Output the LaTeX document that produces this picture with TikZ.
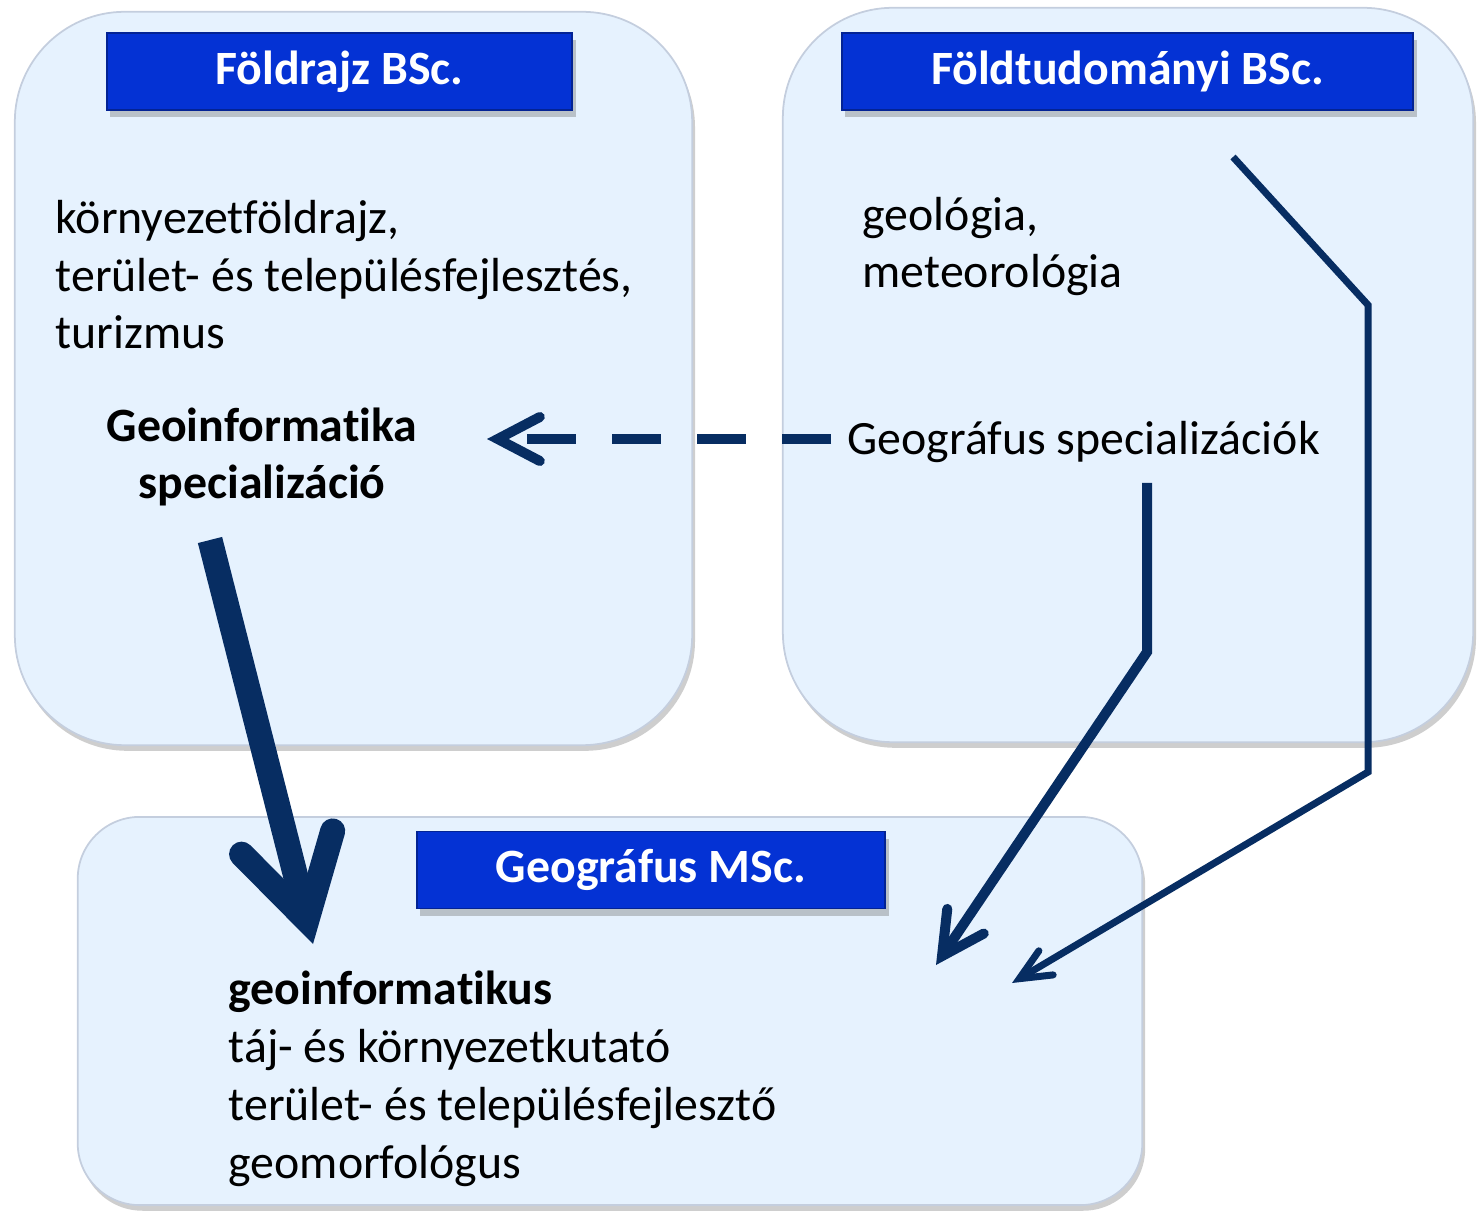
\documentclass[tikz,border=0pt]{standalone}
\usepackage{fontspec}
\setmainfont{Carlito}[Ligatures=NoCommon]
\usetikzlibrary{arrows.meta,shadows}

\definecolor{panelfill}{RGB}{230,242,254}
\definecolor{paneledge}{RGB}{196,206,222}
\definecolor{headblue}{RGB}{4,50,212}
\definecolor{arrownavy}{RGB}{7,45,98}

\newcommand{\bodyfont}{\fontsize{13.6}{16.4}\selectfont}

\begin{document}
\begin{tikzpicture}[x=0.01cm, y=-0.01cm,
  panel/.style={draw=paneledge, line width=0.5pt, fill=panelfill, rounded corners=#1,
    drop shadow={shadow xshift=0.8pt, shadow yshift=-1.6pt, fill=black!55, opacity=0.35}},
  header/.style={draw=headblue!70!black, fill=headblue, text=white, inner sep=0pt,
    font=\bodyfont\bfseries, minimum height=0.77cm,
    drop shadow={shadow xshift=1pt, shadow yshift=-2pt, fill=black!60, opacity=0.35}},
  body/.style={inner sep=0pt, font=\bodyfont, align=left},
  link/.style={draw=arrownavy, line join=miter}]
\useasboundingbox (0,0) rectangle (1480,1210);
% --- boxes ---
\node[panel=1.1cm, minimum width=6.77cm, minimum height=7.33cm] (bsc1) at (353.5,378.5) {};
\node[panel=1.1cm, minimum width=6.90cm, minimum height=7.34cm] (bsc2) at (1128,375) {};
\node[panel=0.62cm, minimum width=10.64cm, minimum height=3.88cm] (msc) at (610,1011) {};
\node[header, minimum width=4.65cm] (head1) at (339.5,71.5) {\raisebox{-2pt}{Földrajz BSc.}};
\node[header, minimum width=5.71cm] (head2) at (1127.5,71.5) {\raisebox{-2pt}{Földtudományi BSc.}};
\node[header, minimum width=4.68cm] (head3) at (651,870) {\raisebox{-2pt}{Geográfus MSc.}};
% --- texts (anchored on the last baseline) ---
\node[body, anchor=base west] (list1) at (55,349) {környezetföldrajz,\\terület- és településfejlesztés,\\turizmus};
\node[body, align=center, font=\bodyfont\bfseries, anchor=base] (geoinf) at (262,499) {Geoinformatika\\specializáció};
\node[body, anchor=base west] (list2) at (862,288) {geológia,\\meteorológia};
\node[body, anchor=base west] (spec) at (847,455) {Geográfus specializációk};
\node[body, anchor=base west] (jobs) at (228,1178) {\textbf{geoinformatikus}\\táj- és környezetkutató\\terület- és településfejlesztő\\geomorfológus};
% --- arrows ---
\coordinate (dashfrom) at (831,439);
\coordinate (dashto) at (487,439);
\coordinate (bigfrom) at (210,540);
\coordinate (bigto) at (313,944);
\coordinate (specfrom) at (1147,483);
\coordinate (specbend) at (1147,652);
\coordinate (specto) at (936,965);
\coordinate (longfrom) at (1233,157);
\coordinate (longbend1) at (1368,305);
\coordinate (longbend2) at (1368,772);
\coordinate (longto) at (1012,983);
\draw[link, line width=0.1cm, dash pattern=on 0.49cm off 0.36cm,
  -{Straight Barb[length=0.42cm, width=0.44cm, line cap=round, line join=miter]}] (dashfrom) -- (dashto);
\draw[link, line width=0.25cm,
  -{Straight Barb[length=0.8cm, width=0.94cm, line cap=round, line join=miter]}] (bigfrom) -- (bigto);
\draw[link, line width=0.1cm,
  -{Straight Barb[length=0.42cm, width=0.44cm, line cap=round, line join=miter]}] (specfrom) -- (specbend) -- (specto);
\draw[link, line width=0.07cm,
  -{Straight Barb[length=0.31cm, width=0.28cm, line cap=round, line join=miter]}] (longfrom) -- (longbend1) -- (longbend2) -- (longto);
\end{tikzpicture}
\end{document}
